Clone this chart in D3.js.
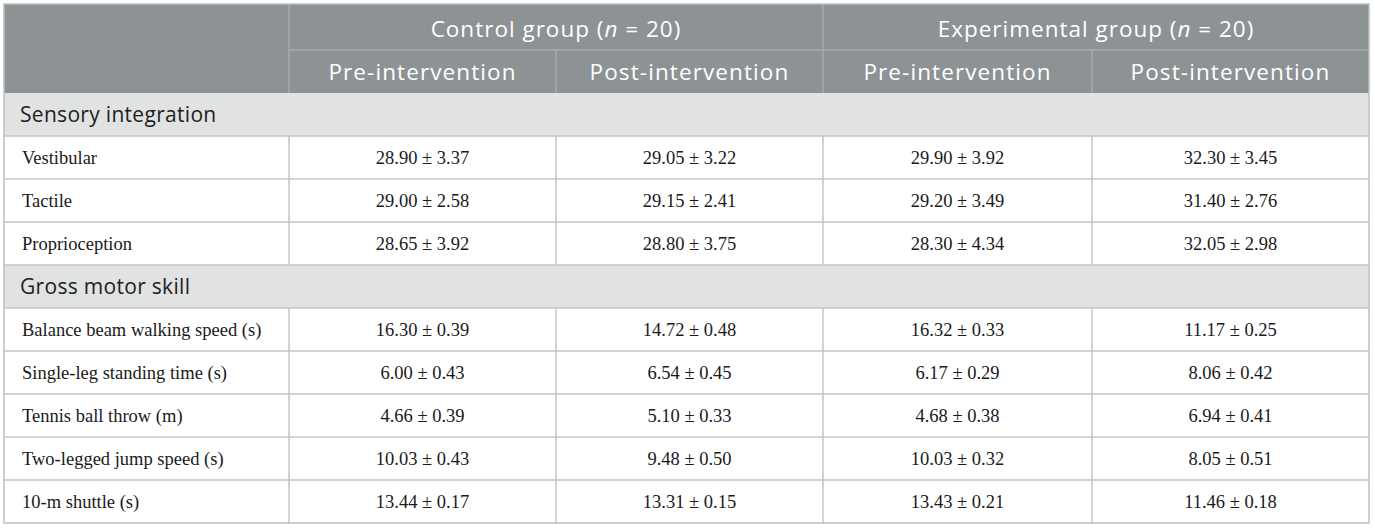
<!DOCTYPE html>
<html>
<head>
<meta charset="utf-8">
<script src="https://cdn.jsdelivr.net/npm/d3@7"></script>
<style>
  body { margin: 0; background: #fff; }
  svg { display: block; }
</style>
</head>
<body>
<svg id="table"></svg>
<script>
// table contents
let groups = ["Control group", "Experimental group"];
let groupN = [20, 20];
let phases = ["Pre-intervention", "Post-intervention"];
let sections = ["Sensory integration", "Gross motor skill"];

let sensoryItems = ["Vestibular", "Tactile", "Proprioception"];
let sensoryMeans = [
    [28.90, 29.05, 29.90, 32.30],
    [29.00, 29.15, 29.20, 31.40],
    [28.65, 28.80, 28.30, 32.05]
];
let sensorySD = [
    [3.37, 3.22, 3.92, 3.45],
    [2.58, 2.41, 3.49, 2.76],
    [3.92, 3.75, 4.34, 2.98]
];

let motorItems = ["Balance beam walking speed (s)", "Single-leg standing time (s)",
    "Tennis ball throw (m)", "Two-legged jump speed (s)", "10-m shuttle (s)"];
let motorMeans = [
    [16.30, 14.72, 16.32, 11.17],
    [6.00, 6.54, 6.17, 8.06],
    [4.66, 5.10, 4.68, 6.94],
    [10.03, 9.48, 10.03, 8.05],
    [13.44, 13.31, 13.43, 11.46]
];
let motorSD = [
    [0.39, 0.48, 0.33, 0.25],
    [0.43, 0.45, 0.29, 0.42],
    [0.39, 0.33, 0.38, 0.41],
    [0.43, 0.50, 0.32, 0.51],
    [0.17, 0.15, 0.21, 0.18]
];

function getTableConfig() {
    let width = 1375;
    let height = 529;
    let left = 4, right = 1369, top = 4, bottom = 523;
    let headTop = 4, headMid = 50, headBottom = 93;
    let colWeights = [285, 267, 267, 269, 277]; // relative column widths
    let container = d3.select("#table").attr("width", width).attr("height", height);
    return { width, height, left, right, top, bottom, headTop, headMid, headBottom, colWeights, container };
}

function buildRows() {
    // flatten sections + items into one list of body rows
    let rows = [];
    rows.push({ type: "section", label: sections[0] });
    sensoryItems.forEach((name, i) => rows.push({ type: "data", label: name, means: sensoryMeans[i], sds: sensorySD[i] }));
    rows.push({ type: "section", label: sections[1] });
    motorItems.forEach((name, i) => rows.push({ type: "data", label: name, means: motorMeans[i], sds: motorSD[i] }));
    return rows;
}

function getScales(rows, config) {
    let { left, right, headBottom, bottom, colWeights } = config;
    let cum = [0];
    colWeights.forEach(w => cum.push(cum[cum.length - 1] + w));
    let xScale = d3.scaleLinear().domain([0, cum[cum.length - 1]]).range([left, right]);
    let colEdge = i => xScale(cum[i]);   // left edge of column i (0 = label column)
    let yScale = d3.scaleBand()
        .domain(rows.map((r, i) => i))
        .range([headBottom, bottom])
        .padding(0);
    return { xScale, colEdge, yScale };
}

function drawHeader(config, scales) {
    let { container, left, right, headTop, headMid, headBottom } = config;
    let { colEdge } = scales;
    let g = container.append("g");

    g.append("rect")
        .attr("x", left).attr("y", headTop)
        .attr("width", right - left).attr("height", headBottom - headTop)
        .attr("fill", "#8d9295");

    // group titles
    groups.forEach((name, i) => {
        let x0 = colEdge(1 + i * 2), x1 = colEdge(3 + i * 2);
        let t = g.append("text")
            .attr("x", (x0 + x1) / 2)
            .attr("y", headTop + 33)
            .attr("text-anchor", "middle")
            .attr("fill", "#ffffff")
            .style("font-family", "'Open Sans', sans-serif")
            .style("font-size", "22.5px")
            .style("letter-spacing", "1px");
        t.append("tspan").text(name + " (");
        t.append("tspan").style("font-style", "italic").text("n");
        t.append("tspan").text(" = " + groupN[i] + ")");
    });

    // phase titles
    d3.range(4).forEach(j => {
        g.append("text")
            .attr("x", (colEdge(j + 1) + colEdge(j + 2)) / 2)
            .attr("y", headMid + 30)
            .attr("text-anchor", "middle")
            .attr("fill", "#ffffff")
            .style("font-family", "'Open Sans', sans-serif")
            .style("font-size", "22.5px")
            .style("letter-spacing", "1.1px")
            .text(phases[j % 2]);
    });

    // header grid lines
    g.append("line")
        .attr("x1", colEdge(1)).attr("x2", right)
        .attr("y1", headMid).attr("y2", headMid)
        .attr("stroke", "#a6abad").attr("stroke-width", 1.5);
    [1, 3].forEach(c => {
        g.append("line")
            .attr("x1", colEdge(c)).attr("x2", colEdge(c))
            .attr("y1", headTop).attr("y2", headBottom)
            .attr("stroke", "#a6abad").attr("stroke-width", 1.5);
    });
    [2, 4].forEach(c => {
        g.append("line")
            .attr("x1", colEdge(c)).attr("x2", colEdge(c))
            .attr("y1", headMid).attr("y2", headBottom)
            .attr("stroke", "#a6abad").attr("stroke-width", 1.5);
    });
}

function drawBody(rows, config, scales) {
    let { container, left, right } = config;
    let { colEdge, yScale } = scales;
    let h = yScale.bandwidth();
    let g = container.append("g");

    let rowG = g.selectAll(".row").data(rows).enter().append("g")
        .attr("class", "row")
        .attr("transform", (d, i) => `translate(0,${yScale(i)})`);

    rowG.filter(d => d.type === "section").append("rect")
        .attr("x", left).attr("y", 0)
        .attr("width", right - left).attr("height", h)
        .attr("fill", "#e1e3e2");

    rowG.filter(d => d.type === "section").append("text")
        .attr("x", left + 16).attr("y", h / 2 + 7.5)
        .attr("fill", "#1e1e1e")
        .style("font-family", "'Open Sans', sans-serif")
        .style("font-size", "21px")
        .style("letter-spacing", "0.3px")
        .text(d => d.label);

    let dataRows = rowG.filter(d => d.type === "data");
    dataRows.append("text")
        .attr("x", left + 18).attr("y", h / 2 + 6.5)
        .attr("fill", "#1a1a1a")
        .style("font-family", "'Liberation Serif', 'Times New Roman', serif")
        .style("font-size", "18.5px")
        .text(d => d.label);

    dataRows.selectAll(".cell")
        .data(d => d.means.map((m, j) => ({ m, s: d.sds[j], j })))
        .enter().append("text")
        .attr("class", "cell")
        .attr("x", d => (colEdge(d.j + 1) + colEdge(d.j + 2)) / 2)
        .attr("y", h / 2 + 6.5)
        .attr("text-anchor", "middle")
        .attr("fill", "#1a1a1a")
        .style("font-family", "'Liberation Serif', 'Times New Roman', serif")
        .style("font-size", "18.5px")
        .text(d => d3.format(".2f")(d.m) + " \u00b1 " + d3.format(".2f")(d.s));

    // horizontal grid lines
    g.selectAll(".hline").data(rows.slice(1).map((r, i) => i + 1)).enter().append("line")
        .attr("x1", left).attr("x2", right)
        .attr("y1", i => yScale(i)).attr("y2", i => yScale(i))
        .attr("stroke", "#c2c6c4").attr("stroke-width", 1.5);

    // vertical grid lines only through data rows
    dataRows.selectAll(".vline").data([1, 2, 3, 4]).enter().append("line")
        .attr("x1", c => colEdge(c)).attr("x2", c => colEdge(c))
        .attr("y1", 0).attr("y2", h)
        .attr("stroke", "#c2c6c4").attr("stroke-width", 1.5);
}

function drawBorder(config) {
    let { container, left, right, top, bottom } = config;
    container.append("rect")
        .attr("x", left).attr("y", top)
        .attr("width", right - left).attr("height", bottom - top)
        .attr("fill", "none")
        .attr("stroke", "#bcc0be").attr("stroke-width", 1.5);
}

function drawTable() {
    let config = getTableConfig();
    let rows = buildRows();
    let scales = getScales(rows, config);
    drawHeader(config, scales);
    drawBody(rows, config, scales);
    drawBorder(config);
}

drawTable();
</script>
</body>
</html>
